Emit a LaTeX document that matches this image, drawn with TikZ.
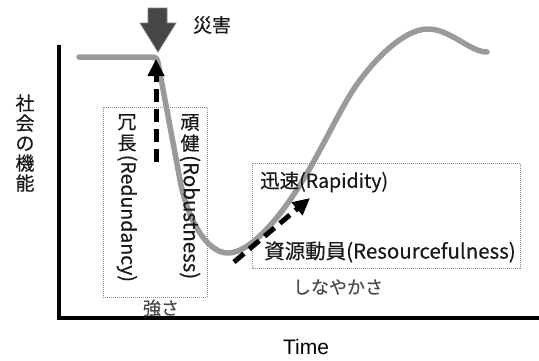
\documentclass[tikz,border=0pt]{standalone}
\usepackage{fontspec}
\setmainfont{Noto Sans CJK JP}[FakeBold=0.35]
\newfontfamily\latinsans{Liberation Sans}
\usetikzlibrary{arrows.meta}
\definecolor{curvegray}{HTML}{9A9A9A}
\definecolor{arrowdark}{HTML}{464646}
\definecolor{boxgray}{HTML}{8C8C8C}
\definecolor{softtext}{HTML}{4A4A4A}
\tikzset{
  axisline/.style={line width=4pt, black},
  curveline/.style={line width=5.5pt, curvegray, line cap=round, line join=round},
  dasharrow/.style={line width=5pt, black, dash pattern=on 13pt off 7pt, -{Triangle[width=16pt,length=17pt]}},
  dotbox/.style={draw=boxgray, line width=0.8pt, dash pattern=on 1pt off 1pt},
  lbl/.style={inner sep=0pt, text=black!90, font=\fontsize{19.5pt}{20pt}\selectfont},
  softlbl/.style={inner sep=0pt, text=softtext, font=\fontsize{18pt}{20pt}\selectfont},
}
\begin{document}
\begin{tikzpicture}[x=1pt,y=-1pt]
\useasboundingbox (0,0) rectangle (539,360);
% axes
\draw[axisline] (59,45) -- (59,318) -- (540,318);
% dotted boxes
\draw[dotbox] (103,107) rectangle (207,297);
\draw[dotbox] (252,163) rectangle (520,268);
% curve
\draw[curveline, rounded corners=4pt] (79,57) -- (157,57) -- (180,180);
\draw[curveline] (180,180) .. controls (186,214) and (205,253) .. (228,253)
  .. controls (250,253) and (280,218) .. (303,180)
  .. controls (320,152) and (335,120) .. (350,95)
  .. controls (365,70) and (400,29) .. (428,29)
  .. controls (450,29) and (470,52) .. (487,52);
% disaster arrow
\draw[fill=arrowdark, draw=gray, line width=0.6pt, line join=miter]
  (148,8) -- (167,8) -- (167,23) -- (176,23) -- (158,52) -- (140,23) -- (148,23) -- cycle;
\node[lbl, font=\fontsize{19pt}{20pt}\selectfont] (disaster) at (212,25) {災害};
% dashed arrows
\coordinate (r0) at (156,162);
\coordinate (r1) at (156,59);
\draw[dasharrow] (r0) -- (r1);
\coordinate (p0) at (234,262);
\coordinate (p1) at (310,198);
\draw[dasharrow] (p0) -- (p1);
% y label
\node[lbl, align=center, font=\fontsize{19pt}{20pt}\selectfont] (ylab) at (25,143) {社\\会\\の\\機\\能};
% x label
\node[inner sep=0pt, font=\latinsans\fontsize{21pt}{24pt}\selectfont] (xlab) at (306,347) {Time};
% vertical columns
\node[lbl, align=center, anchor=north, font=\fontsize{19pt}{21pt}\selectfont] (red) at (127,114) {冗\\長};
\node[lbl, rotate=-90, anchor=west] (redl) at ([yshift=-3pt]red.south) {(Redundancy)};
\node[lbl, align=center, anchor=north, font=\fontsize{19pt}{21pt}\selectfont] (rob) at (190,114) {頑\\健};
\node[lbl, rotate=-90, anchor=west, font=\fontsize{20.5pt}{21pt}\selectfont] (robl) at ([yshift=-3pt]rob.south) {(Robustness)};
% box labels
\node[lbl, anchor=west] (rap) at (260,182) {迅速(Rapidity)};
\node[lbl, anchor=west, font=\fontsize{20.5pt}{21pt}\selectfont] (res) at (264,252) {資源動員(Resourcefulness)};
\node[softlbl] (strong) at (161,308) {強さ};
\node[softlbl] (flex) at (338,287) {しなやかさ};
\end{tikzpicture}
\end{document}
